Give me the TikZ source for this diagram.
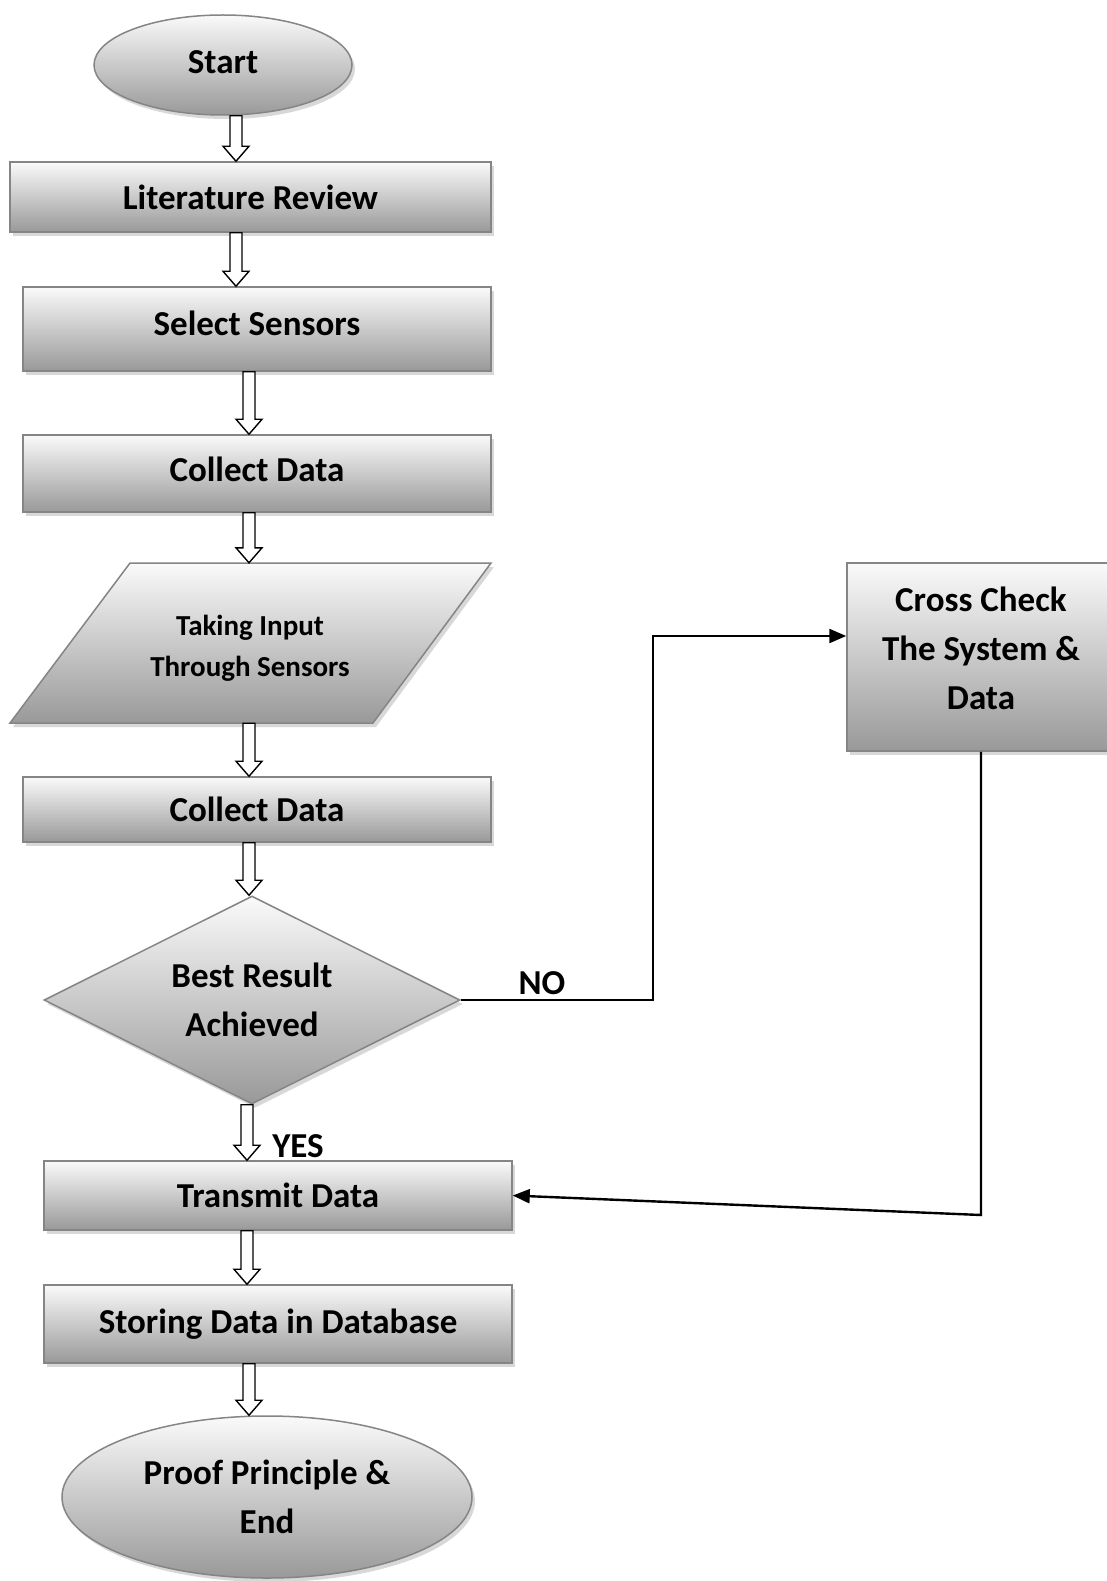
\documentclass[tikz,border=0pt]{standalone}
\usepackage{fontspec}
\setmainfont{Carlito}
\usetikzlibrary{shapes.geometric,shadows,arrows.meta,calc}
\tikzset{
 base/.style={draw=black!48, line width=1.5pt, top color=black!2, bottom color=black!40,
   drop shadow={shadow xshift=3pt, shadow yshift=-4pt, opacity=0.3, fill=black!50},
   font=\bfseries\fontsize{35}{49}\selectfont, align=center, inner sep=0pt, text=black},
 box/.style={base, rectangle},
 ell/.style={base, ellipse},
 dia/.style={base, diamond, aspect=2},
 harrowline/.style={draw=black, fill=white, line width=1.4pt, line join=miter},
 conn/.style={draw=black, line width=2.4pt, -{Triangle[length=17pt, width=14pt]}},
 lbl/.style={font=\bfseries\fontsize{35}{40}\selectfont, inner sep=0pt}
}
\newcommand{\harrow}[3]{%
 \path[harrowline] let \p1=(#2.south), \p2=(#3.north) in
 (#1pt-6pt,\y1) -- (#1pt-6pt,\y2+15pt) -- (#1pt-13pt,\y2+15pt) -- (#1pt,\y2)
 -- (#1pt+13pt,\y2+15pt) -- (#1pt+6pt,\y2+15pt) -- (#1pt+6pt,\y1) -- cycle;}
\begin{document}
\begin{tikzpicture}[x=1pt,y=-1pt]
\useasboundingbox[fill=white] (0,0) rectangle (1106,1581);

\node[ell, minimum width=258pt, minimum height=100pt] (start) at (223,65) {Start\rule[-6pt]{0pt}{0pt}};
\node[box, minimum width=481pt, minimum height=70pt] (lit) at (250.5,197) {Literature Review};
\node[box, minimum width=468pt, minimum height=84pt] (sel) at (257,329) {Select Sensors\rule[-12pt]{0pt}{0pt}};
\node[box, minimum width=468pt, minimum height=77pt] (col1) at (257,473.5) {Collect Data\rule[-8pt]{0pt}{0pt}};
\path[base] (130,563) -- (491,563) -- (373,723) -- (10,723) -- cycle;
\node[font=\bfseries\fontsize{29}{41}\selectfont, align=center, inner sep=0pt,
  minimum width=360pt, minimum height=160pt] (para) at (250,643) {\rule{0pt}{31pt}Taking Input\\Through Sensors};
\node[box, minimum width=468pt, minimum height=65pt] (col2) at (257,809.5) {Collect Data};
\node[dia, minimum width=416pt, minimum height=208pt] (dia) at (252,1000) {Best Result\\Achieved};
\node[box, minimum width=468pt, minimum height=69pt] (trans) at (278,1195.5) {Transmit Data};
\node[box, minimum width=468pt, minimum height=78pt] (store) at (278,1324) {Storing Data in Database};
\node[ell, minimum width=410pt, minimum height=162pt] (end) at (267,1497) {Proof Principle \&\\End};
\node[box, minimum width=268pt, minimum height=188pt] (cross) at (981,657) {Cross Check\\The System \&\\Data\rule[-18pt]{0pt}{0pt}};

\harrow{236}{start}{lit}
\harrow{236}{lit}{sel}
\harrow{249}{sel}{col1}
\harrow{249}{col1}{para}
\harrow{249}{para}{col2}
\harrow{249}{col2}{dia}
\harrow{247}{dia}{trans}
\harrow{247}{trans}{store}
\harrow{249}{store}{end}

\coordinate (nobend) at (653,1000);
\coordinate (nohigh) at (653,636);
\draw[conn] (dia.east) -- (nobend) -- (nohigh) -- (nohigh -| cross.west);
\coordinate (rb) at (981,1215);
\draw[conn] (cross.south) -- (rb) -- (trans.east);

\node[lbl] (no) at (542,983) {NO};
\node[lbl] (yes) at (298,1146) {YES};
\end{tikzpicture}
\end{document}
